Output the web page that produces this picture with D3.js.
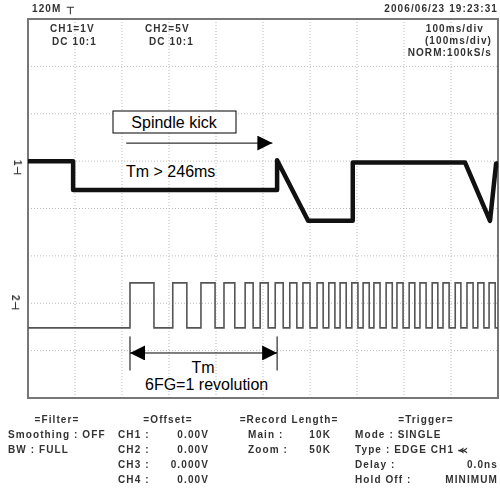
<!DOCTYPE html>
<html>
<head>
<meta charset="utf-8">
<script src="https://cdn.jsdelivr.net/npm/d3@7"></script>
<style>
  body { margin: 0; background: #fff; }
  svg text { font-family: "Liberation Sans", Arial, sans-serif; }
  .scr { fill: #333; font-size: 10px; font-weight: bold; letter-spacing: 1.1px; filter: url(#soft); }
  .anno { fill: #000; font-size: 16px; }
</style>
</head>
<body>
<svg id="chart" width="500" height="494"></svg>
<script>
// time axis: 100 ms/div, 10 div; values in divisions (8 div tall)
const ch1Trace = [
  [0, 1.0], [96, 1.0], [96, 0.39], [530, 0.39], [530, 1.02], [596, -0.26],
  [691, -0.26], [691, 0.97], [930, 0.97], [983, -0.26], [996, 0.95], [1000, 0.95]
]
// CH2 (FG pulses): rising / falling edge times in ms
const ch2Rise = [217, 308, 368, 417, 462, 494, 526, 557, 585, 615, 640, 664, 689,
  713, 736, 762, 785, 811, 834, 860, 883, 909, 934, 957, 981]
const ch2Fall = [268, 338, 398, 440, 479, 511, 543, 572, 600, 628, 653, 677, 702,
  726, 749, 775, 798, 823, 847, 872, 896, 921, 947, 970, 994]
const ch2High = -1.57
const ch2Low = -2.52

const headerLeft = ["CH1=1V", "DC  10:1", "CH2=5V", "DC  10:1"]
const headerRight = ["100ms/div", "(100ms/div)", "NORM:100kS/s"]
const filterRows = ["Smoothing : OFF", "BW : FULL"]
const offsetRows = [["CH1 :", "0.00V"], ["CH2 :", "0.00V"], ["CH3 :", "0.000V"], ["CH4 :", "0.00V"]]
const recordRows = [["Main :", "10K"], ["Zoom :", "50K"]]
const triggerRows = [["Mode : SINGLE", ""], ["Type : EDGE CH1 \u2ABB", ""], ["Delay :", "0.0ns"], ["Hold Off :", "MINIMUM"]]

const svg = d3.select("#chart")
const defs = svg.append("defs")
defs.append("filter").attr("id", "soft")
  .append("feGaussianBlur").attr("stdDeviation", 0.4)

const x = d3.scaleLinear().domain([0, 1000]).range([28, 498])
const y = d3.scaleLinear().domain([-4, 4]).range([398, 19])

// grid
const grid = svg.append("g")
grid.selectAll(".vg")
  .data(d3.range(100, 1000, 100))
  .join("line")
    .attr("x1", d => x(d)).attr("x2", d => x(d))
    .attr("y1", y(4)).attr("y2", y(-4))
    .attr("stroke", "#bbb").attr("stroke-width", 1)
    .attr("stroke-dasharray", "1,2")
grid.selectAll(".hg")
  .data(d3.range(-3, 4, 1))
  .join("line")
    .attr("x1", x(0)).attr("x2", x(1000))
    .attr("y1", d => y(d)).attr("y2", d => y(d))
    .attr("stroke", "#bbb").attr("stroke-width", 1)
    .attr("stroke-dasharray", "1,2")

// frame
svg.append("rect")
  .attr("x", x(0)).attr("y", y(4))
  .attr("width", x(1000) - x(0)).attr("height", y(-4) - y(4))
  .attr("fill", "none").attr("stroke", "#777").attr("stroke-width", 2)

const line = d3.line().x(d => x(d[0])).y(d => y(d[1]))

// CH2 square wave
let ch2Points = [[0, ch2Low]]
ch2Rise.forEach((r, i) => {
  ch2Points.push([r, ch2Low], [r, ch2High], [ch2Fall[i], ch2High], [ch2Fall[i], ch2Low])
})
ch2Points.push([1000, ch2Low])
svg.append("path")
  .attr("d", line(ch2Points))
  .attr("fill", "none").attr("stroke", "#555").attr("stroke-width", 1.6)

// CH1 trace
svg.append("path")
  .attr("d", line(ch1Trace))
  .attr("fill", "none").attr("stroke", "#111").attr("stroke-width", 4.5)
  .attr("stroke-linejoin", "round")

// channel markers
svg.append("text").attr("class", "scr")
  .attr("transform", `translate(14,${y(0.85)}) rotate(90)`)
  .attr("text-anchor", "middle").text("1\u22A3")
svg.append("text").attr("class", "scr")
  .attr("transform", `translate(12,${y(-2.0)}) rotate(90)`)
  .attr("text-anchor", "middle").text("2\u22A3")

// header
svg.append("text").attr("class", "scr").attr("x", 32).attr("y", 12).text("120M")
svg.append("text").attr("class", "scr").attr("x", 66).attr("y", 14).text("\u22A4")
svg.append("text").attr("class", "scr").attr("x", 498).attr("y", 12)
  .attr("text-anchor", "end").text("2006/06/23  19:23:31")
svg.selectAll(".hl")
  .data(headerLeft)
  .join("text").attr("class", "scr")
    .attr("x", (d, i) => i < 2 ? (i === 0 ? 50 : 52) : (i === 2 ? 145 : 149))
    .attr("y", (d, i) => i % 2 === 0 ? 32 : 45)
    .text(d => d)
svg.selectAll(".hr")
  .data(headerRight)
  .join("text").attr("class", "scr")
    .attr("x", (d, i) => i === 0 ? 484 : 492)
    .attr("y", (d, i) => 32 + i * 12)
    .attr("text-anchor", "end")
    .text(d => d)

// footer
const foot = svg.append("g")
foot.append("text").attr("class", "scr").attr("x", 57).attr("y", 423)
  .attr("text-anchor", "middle").text("=Filter=")
filterRows.forEach((t, i) => {
  foot.append("text").attr("class", "scr").attr("x", 8).attr("y", 438 + i * 15).text(t)
})
foot.append("text").attr("class", "scr").attr("x", 168).attr("y", 423)
  .attr("text-anchor", "middle").text("=Offset=")
offsetRows.forEach((r, i) => {
  foot.append("text").attr("class", "scr").attr("x", 118).attr("y", 438 + i * 15).text(r[0])
  foot.append("text").attr("class", "scr").attr("x", 209).attr("y", 438 + i * 15)
    .attr("text-anchor", "end").text(r[1])
})
foot.append("text").attr("class", "scr").attr("x", 289).attr("y", 423)
  .attr("text-anchor", "middle").text("=Record Length=")
recordRows.forEach((r, i) => {
  foot.append("text").attr("class", "scr").attr("x", 248).attr("y", 438 + i * 15).text(r[0])
  foot.append("text").attr("class", "scr").attr("x", 331).attr("y", 438 + i * 15)
    .attr("text-anchor", "end").text(r[1])
})
foot.append("text").attr("class", "scr").attr("x", 426).attr("y", 423)
  .attr("text-anchor", "middle").text("=Trigger=")
triggerRows.forEach((r, i) => {
  foot.append("text").attr("class", "scr").attr("x", 355).attr("y", 438 + i * 15).text(r[0])
  foot.append("text").attr("class", "scr").attr("x", 498).attr("y", 438 + i * 15)
    .attr("text-anchor", "end").text(r[1])
})

// annotations
defs.append("marker").attr("id", "ah").attr("viewBox", "0 0 10 10")
  .attr("refX", 10).attr("refY", 5).attr("markerWidth", 20).attr("markerHeight", 15)
  .attr("markerUnits", "userSpaceOnUse").attr("orient", "auto-start-reverse")
  .append("path").attr("d", "M0,0 L10,5 L0,10 Z").attr("fill", "#000")

// Spindle kick box + arrow
svg.append("rect")
  .attr("x", 113).attr("y", 111).attr("width", 123).attr("height", 22)
  .attr("fill", "#fff").attr("stroke", "#000").attr("stroke-width", 1)
svg.append("text").attr("class", "anno").attr("x", 174).attr("y", 128)
  .attr("text-anchor", "middle").text("Spindle kick")
svg.append("line")
  .attr("x1", x(209)).attr("x2", x(520))
  .attr("y1", y(1.38)).attr("y2", y(1.38))
  .attr("stroke", "#000").attr("stroke-width", 1)
  .attr("marker-end", "url(#ah)")
svg.append("text").attr("class", "anno").attr("x", 126).attr("y", 177).text("Tm > 246ms")

// Tm span
const tmStart = ch2Rise[0], tmEnd = 530
svg.selectAll(".tick-tm")
  .data([tmStart, tmEnd])
  .join("line")
    .attr("x1", d => x(d)).attr("x2", d => x(d))
    .attr("y1", y(-2.7)).attr("y2", y(-3.42))
    .attr("stroke", "#000").attr("stroke-width", 1)
svg.append("line")
  .attr("x1", x(tmStart)).attr("x2", x(tmEnd))
  .attr("y1", y(-3.05)).attr("y2", y(-3.05))
  .attr("stroke", "#000").attr("stroke-width", 1)
  .attr("marker-start", "url(#ah)").attr("marker-end", "url(#ah)")
svg.append("text").attr("class", "anno").attr("x", 203).attr("y", 373)
  .attr("text-anchor", "middle").text("Tm")
svg.append("text").attr("class", "anno").attr("x", 145).attr("y", 390).text("6FG=1 revolution")
</script>
</body>
</html>
